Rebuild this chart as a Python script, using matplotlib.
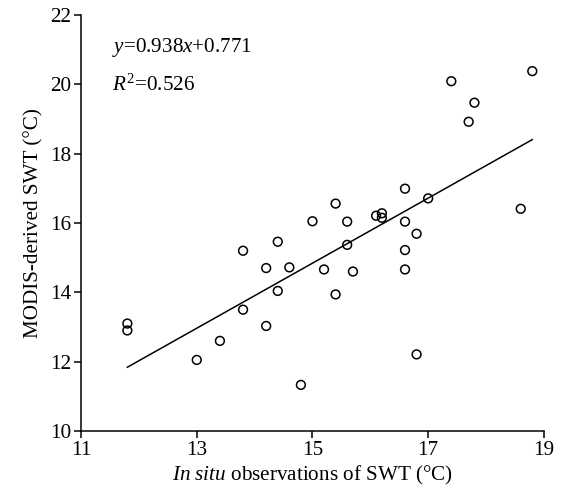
import numpy as np
import matplotlib
matplotlib.use('Agg')
import matplotlib.pyplot as plt

# ==========================================
# DATA
# ==========================================

in_situ = [11.8, 11.8, 13.0, 13.4, 13.8, 13.8, 14.2, 14.2, 14.4, 14.4, 14.6, 14.8,
           15.0, 15.2, 15.4, 15.4, 15.6, 15.6, 15.7, 16.1, 16.2, 16.2, 16.6, 16.6,
           16.6, 16.6, 16.8, 16.8, 17.0, 17.4, 17.7, 17.8, 18.6, 18.8]
modis = [13.1, 12.9, 12.05, 12.6, 13.5, 15.2, 14.7, 13.03, 14.04, 15.46, 14.72, 11.33,
         16.05, 14.66, 16.56, 13.94, 16.04, 15.37, 14.6, 16.21, 16.28, 16.15, 16.99, 16.04,
         15.22, 14.66, 15.69, 12.21, 16.71, 20.09, 18.92, 19.47, 16.41, 20.38]

slope = 0.938
intercept = 0.771
r_squared = 0.526

x_ticks = [11, 13, 15, 17, 19]
y_ticks = [10, 12, 14, 16, 18, 20, 22]

# ==========================================
# STYLE
# ==========================================

plt.rcParams['font.family'] = ['Liberation Serif', 'DejaVu Serif']
plt.rcParams['mathtext.fontset'] = 'custom'
plt.rcParams['mathtext.rm'] = 'Liberation Serif'
plt.rcParams['mathtext.it'] = 'Liberation Serif:italic'

fs = 15.2

# ==========================================
# PLOT
# ==========================================

fig = plt.figure(figsize=(5.63, 4.90), dpi=100)
ax = fig.add_axes([0.144, 0.1204, 0.822, 0.849])

ax.scatter(in_situ, modis, s=40, facecolors='none', edgecolors='black', linewidths=1.1, zorder=3)

fit_x = np.array([min(in_situ), max(in_situ)])
ax.plot(fit_x, slope * fit_x + intercept, color='black', linewidth=1.1)

ax.set_xlim(11, 19)
ax.set_ylim(10, 22)
ax.set_xticks(x_ticks)
ax.set_yticks(y_ticks)
ax.tick_params(direction='out', length=5, width=1.1, labelsize=fs, pad=2)

for side in ['top', 'right']:
    ax.spines[side].set_visible(False)
for side in ['left', 'bottom']:
    ax.spines[side].set_linewidth(1.1)

ax.set_xlabel(r'$In\ situ$ observations of SWT (°C)', fontsize=fs, labelpad=3)
ax.set_ylabel('MODIS-derived SWT (°C)', fontsize=fs, labelpad=5)

ax.text(11.53, 21.05, r'$y$=%.3f$x$+%.3f' % (slope, intercept), fontsize=fs, va='center')
ax.text(11.53, 19.98, r'$R^{\mathrm{2}}$=%.3f' % r_squared, fontsize=fs, va='center')

fig.savefig('out.png', dpi=100)
